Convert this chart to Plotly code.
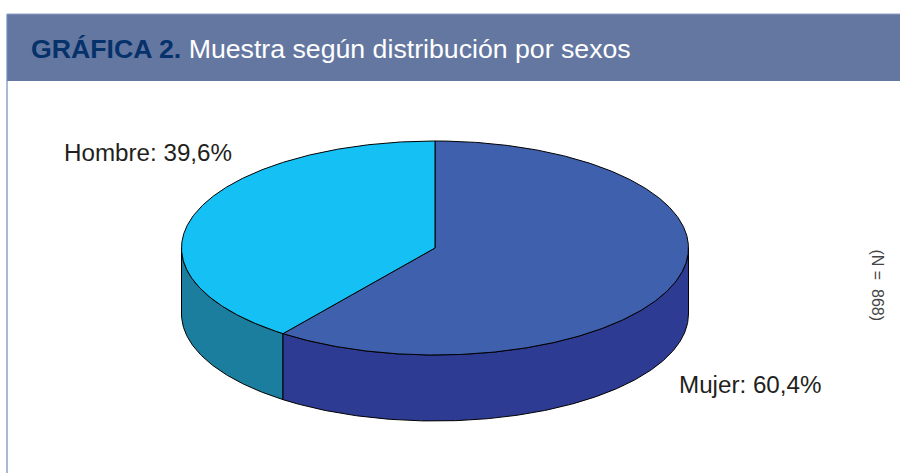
import numpy as np
import plotly.graph_objects as go

categories = ["Hombre", "Mujer"]
values = [39.6, 60.4]
labels = ["Hombre: 39,6%", "Mujer: 60,4%"]
top_colors = ["#14C0F4", "#3F60AD"]
side_colors = ["#1B7E9E", "#2E3B92"]
title_bold = "GRÁFICA 2."
title_rest = " Muestra según distribución por sexos"
note = "(N\u00a0=\u00a0\u00a0868)"

W, H = 900, 473
CX, CY, RX, RY, DEPTH = 435, 248, 253.5, 107, 66
SPLIT_NUDGE = 0.6  # degrees, projection tweak of the seam between slices


def ell(t_deg, dy=0.0):
    """Angle runs counter-clockwise from 12 o'clock."""
    t = np.radians(t_deg)
    return CX - RX * np.sin(t), CY - RY * np.cos(t) + dy


fig = go.Figure()


def poly(x, y, color, line="#000000", width=1.0):
    fig.add_trace(go.Scatter(
        x=x, y=y, mode="lines", fill="toself", fillcolor=color,
        line=dict(color=line, width=width), hoverinfo="skip", showlegend=False,
    ))


start = 0.0
a1 = start + values[0] / sum(values) * 360.0 + SPLIT_NUDGE   # end of Hombre
a2 = start + 360.0                                            # end of Mujer

# side walls (front half only: 90 deg to 270 deg counter-clockwise from top)
for (s, e), col in zip([(90.0, a1), (a1, 270.0)], side_colors):
    ts = np.linspace(s, e, 200)
    x0, y0 = ell(ts)
    x1, y1 = ell(ts[::-1], DEPTH)
    poly(np.r_[x0, x1, x0[0]], np.r_[y0, y1, y0[0]], col)

# top faces
for (s, e), col in zip([(a1, a2), (start, a1)], [top_colors[1], top_colors[0]]):
    ts = np.linspace(s, e, 400)
    x0, y0 = ell(ts)
    poly(np.r_[CX, x0, CX], np.r_[CY, y0, CY], col)

shapes = [
    dict(type="rect", xref="x", yref="y", x0=7, x1=W, y0=14, y1=81,
         fillcolor="#6477A1", line=dict(width=0), layer="below"),
    dict(type="line", xref="x", yref="y", x0=7, x1=7, y0=14, y1=H,
         line=dict(color="#6F8DB8", width=1.2), layer="below"),
    dict(type="line", xref="x", yref="y", x0=7, x1=W, y0=14, y1=14,
         line=dict(color="#8DA0C4", width=1), layer="below"),
]

FONT = "Liberation Sans, Arial, sans-serif"
annotations = [
    dict(x=29, y=49, xref="x", yref="y", xanchor="left", yanchor="middle", showarrow=False,
         text=f"<b><span style='color:#06326B'>{title_bold}</span></b>"
              f"<span style='color:#FFFFFF'>{title_rest}</span>",
         font=dict(family=FONT, size=26.7)),
    dict(x=62, y=152, xref="x", yref="y", xanchor="left", yanchor="middle", showarrow=False,
         text=labels[0], font=dict(family=FONT, size=24.2, color="#231F20")),
    dict(x=677, y=384.5, xref="x", yref="y", xanchor="left", yanchor="middle", showarrow=False,
         text=labels[1], font=dict(family=FONT, size=24.2, color="#231F20")),
    dict(x=877.5, y=285, xref="x", yref="y", xanchor="center", yanchor="middle", showarrow=False,
         text=note, textangle=90, font=dict(family=FONT, size=16, color="#444444")),
]

fig.update_layout(
    width=W, height=H, margin=dict(l=0, r=0, t=0, b=0),
    paper_bgcolor="white", plot_bgcolor="white",
    xaxis=dict(range=[0, W], visible=False, fixedrange=True),
    yaxis=dict(range=[H, 0], visible=False, fixedrange=True),
    shapes=shapes, annotations=annotations, showlegend=False,
)

fig.write_html(
    "out.html",
    config=dict(displayModeBar=False),
    post_script="document.body.style.margin='0';document.body.style.overflow='hidden';",
)
